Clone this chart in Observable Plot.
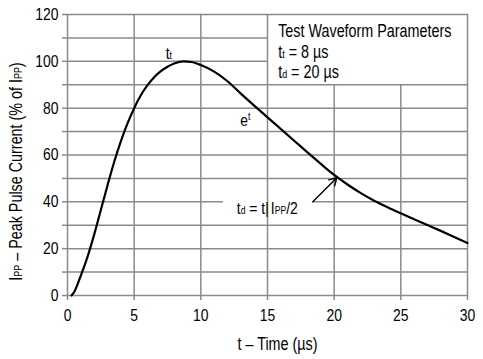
<!DOCTYPE html>
<html><head><meta charset="utf-8">
<script src="https://cdn.jsdelivr.net/npm/d3@7"></script>
<script src="https://cdn.jsdelivr.net/npm/@observablehq/plot@0.6"></script>
<style>body{margin:0;background:#fff}</style>
</head><body><div id="chart"></div>
<script>
// ---- data ----
const timeUs     = [0.3, 0.5, 1.0, 1.5,  2.0, 2.5,  3.0, 3.5, 4.0,  4.5,  5.0, 5.5,  6.0,  6.5,  7.0,  7.5,  8.0,  8.7, 9.3,  10.0, 11.0, 12.0, 13.0, 14.0, 15.0, 16.0, 17.0, 18.0, 19.0, 20.0, 21.0, 22.0, 23.0, 24.0, 25.0, 26.0, 27.0, 28.0, 29.0, 30.0];
const currentPct = [0,   1.5, 8.5, 16.5, 26,  36.5, 47,  57,  65.8, 73.5, 80,  85.5, 89.8, 93.2, 95.8, 97.7, 99.1, 100, 99.7, 98.4, 95.6, 91.5, 86.2, 81.1, 76.1, 71.1, 66.1, 61.1, 56.2, 51.5, 47.4, 43.7, 40.5, 37.7, 35.1, 32.6, 30.1, 27.6, 25.0, 22.4];
const xTicks = [0, 5, 10, 15, 20, 25, 30];
const yTicks = [0, 10, 20, 30, 40, 50, 60, 70, 80, 90, 100, 110, 120];
const xTitle = "t – Time (µs)";
const yTitle = "I{PP} – Peak Pulse Current (% of I{PP})";
const legendTitle = "Test Waveform Parameters";
const legendRise = "t{t} = 8 µs";
const legendDecay = "t{d} = 20 µs";
const peakLabel = "t{t}";
const expLabel = "e^{t}";
const halfLabelLeft = "t{d} = t|";
const halfLabelRight = "I{PP}/2";

// ---- layout / annotation placement ----
const gridColor = "#8a8a8a";
const font = "'Liberation Sans', Arial, sans-serif";
const narrow = 0.82; // horizontal squeeze to mimic a narrow face
const box = {x1: 15, x2: 30, y1: 90, y2: 120};
const gapY40 = [11.7, 18.4];

const curve = timeUs.map((t, i) => ({t, v: currentPct[i]}));
const inner = (a) => a.slice(1, -1);
const gridV = inner(xTicks).map(x => ({x, y2: x > box.x1 ? box.y1 : 120}));
const gridH = [];
inner(yTicks).forEach(y => {
  if (y === 40) {
    gridH.push({y, x1: 0, x2: gapY40[0]}, {y, x1: gapY40[1], x2: 30});
  } else {
    gridH.push({y, x1: 0, x2: y > box.y1 ? box.x1 : 30});
  }
});

const notes = [
  {label: legendTitle, x: 15.8, y: 112.6, anchor: "start", size: 17.5},
  {label: legendRise, x: 15.8, y: 103.8, anchor: "start", size: 17.5},
  {label: legendDecay, x: 15.8, y: 95.3, anchor: "start", size: 17.5},
  {label: peakLabel, x: 7.6, y: 103.5, anchor: "middle", size: 17},
  {label: expLabel, x: 12.95, y: 74.7, anchor: "start", size: 17},
  {label: halfLabelLeft, x: 15.1, y: 37.1, anchor: "end", size: 17},
  {label: halfLabelRight, x: 15.25, y: 37.1, anchor: "start", size: 17}
];

const chart = Plot.plot({
  width: 483, height: 359,
  marginLeft: 67, marginRight: 16, marginTop: 14, marginBottom: 64,
  style: {fontFamily: font, fontSize: "16px", background: "#fff", color: "#000"},
  x: {domain: [0, 30]},
  y: {domain: [0, 120]},
  marks: [
    Plot.ruleX(gridV, {x: "x", y1: 0, y2: "y2", stroke: gridColor, strokeWidth: 1.5}),
    Plot.ruleY(gridH, {y: "y", x1: "x1", x2: "x2", stroke: gridColor, strokeWidth: 1.5}),
    Plot.frame({stroke: gridColor, strokeWidth: 1.5}),
    Plot.axisX({ticks: xTicks, tickSize: 5, tickPadding: 8, stroke: gridColor, strokeWidth: 1.5, fill: "#000", fontSize: 17, label: null}),
    Plot.axisY({ticks: yTicks, tickFormat: d => d % 20 === 0 ? String(d) : "", tickSize: 5, tickPadding: 4, stroke: gridColor, strokeWidth: 1.5, fill: "#000", fontSize: 17, label: null}),
    Plot.line(curve, {x: "t", y: "v", curve: "monotone-x", stroke: "#000", strokeWidth: 2.2}),
    Plot.arrow([{x1: 18.4, y1: 40, x2: 20.2, y2: 50.3}], {x1: "x1", y1: "y1", x2: "x2", y2: "y2", stroke: "#000", strokeWidth: 1.4, headLength: 9}),
    ...["start", "middle", "end"].map(a => Plot.text(notes.filter(n => n.anchor === a), {x: "x", y: "y", text: "label", textAnchor: a, lineAnchor: "middle", fontSize: d => d.size, fill: "#000"})),
    Plot.text([xTitle], {frameAnchor: "bottom", text: d => d, dx: 10, dy: 49, lineAnchor: "middle", fontSize: 17.5, fill: "#000"}),
    Plot.text([yTitle], {frameAnchor: "left", text: d => d, rotate: -90, dx: -51.5, dy: 16.5, lineAnchor: "middle", textAnchor: "middle", fontSize: 17.5, fill: "#000"})
  ]
});

function richify(svg) {
  svg.querySelectorAll("text").forEach(t => {
    const tr = t.getAttribute("transform") || "";
    t.setAttribute("transform", (tr + ` scale(${narrow},1)`).trim());
    const els = t.querySelectorAll("tspan").length ? [...t.querySelectorAll("tspan")] : [t];
    els.forEach(el => {
      const s = el.textContent;
      if (!/[{^]/.test(s)) return;
      el.textContent = "";
      const re = /\^\{([^}]*)\}|\{([^}]*)\}|([^{^]+)/g;
      let m;
      while ((m = re.exec(s))) {
        const ts = document.createElementNS("http://www.w3.org/2000/svg", "tspan");
        if (m[1] !== undefined) {
          ts.textContent = m[1];
          ts.setAttribute("font-size", "0.62em");
          ts.setAttribute("dy", "-0.55em");
        } else if (m[2] !== undefined) {
          ts.textContent = m[2];
          ts.setAttribute("font-size", "0.62em");
        } else {
          ts.textContent = m[3];
        }
        el.appendChild(ts);
      }
    });
  });
}
richify(chart);
document.getElementById("chart").appendChild(chart);
</script>
</body></html>
